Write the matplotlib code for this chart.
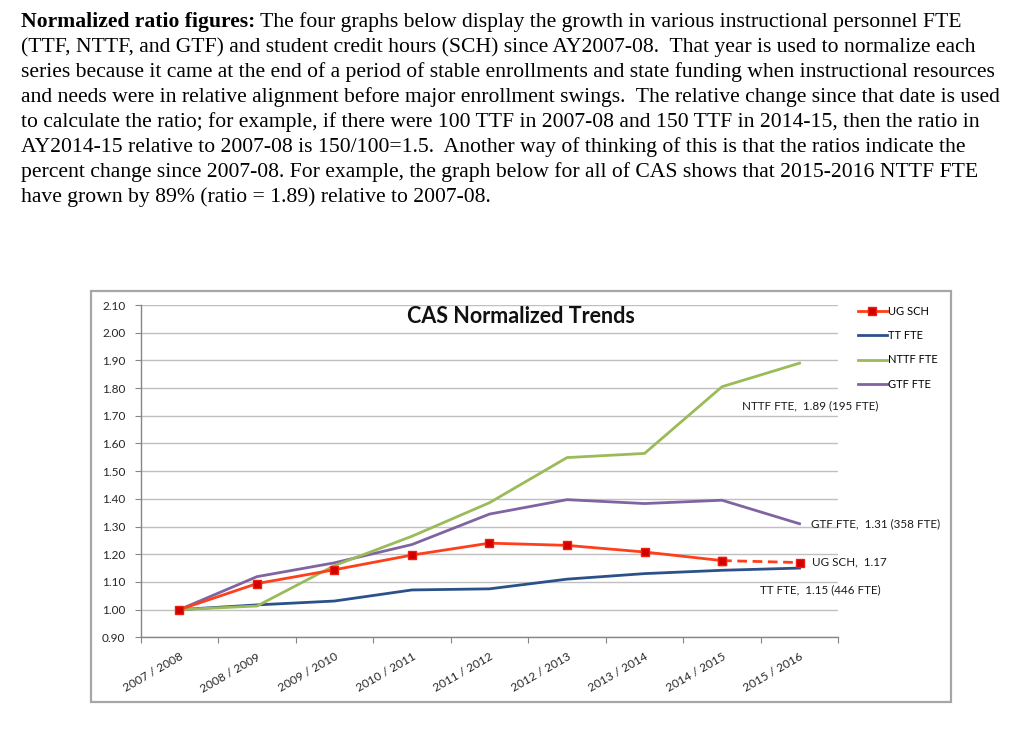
import matplotlib
matplotlib.use('Agg')
import matplotlib.pyplot as plt
from matplotlib.patches import Rectangle

# data
years = ['2007 / 2008', '2008 / 2009', '2009 / 2010', '2010 / 2011', '2011 / 2012',
         '2012 / 2013', '2013 / 2014', '2014 / 2015', '2015 / 2016']
ug_sch = [1.00, 1.094, 1.144, 1.197, 1.240, 1.232, 1.208, 1.177, 1.17]
tt_fte = [1.00, 1.017, 1.031, 1.071, 1.075, 1.110, 1.130, 1.142, 1.15]
nttf_fte = [1.00, 1.013, 1.159, 1.265, 1.386, 1.549, 1.564, 1.805, 1.89]
gtf_fte = [1.00, 1.119, 1.169, 1.235, 1.345, 1.397, 1.383, 1.395, 1.31]
yticks = [0.90, 1.00, 1.10, 1.20, 1.30, 1.40, 1.50, 1.60, 1.70, 1.80, 1.90, 2.00, 2.10]

para = [
    "(TTF, NTTF, and GTF) and student credit hours (SCH) since AY2007-08.  That year is used to normalize each",
    "series because it came at the end of a period of stable enrollments and state funding when instructional resources",
    "and needs were in relative alignment before major enrollment swings.  The relative change since that date is used",
    "to calculate the ratio; for example, if there were 100 TTF in 2007-08 and 150 TTF in 2014-15, then the ratio in",
    "AY2014-15 relative to 2007-08 is 150/100=1.5.  Another way of thinking of this is that the ratios indicate the",
    "percent change since 2007-08. For example, the graph below for all of CAS shows that 2015-2016 NTTF FTE",
    "have grown by 89% (ratio = 1.89) relative to 2007-08.",
]
head_bold = "Normalized ratio figures:"
head_rest = "The four graphs below display the growth in various instructional personnel FTE"

W, H = 1024, 753
def fx(px): return px / W
def fy(py): return 1 - py / H

fig = plt.figure(figsize=(10.24, 7.53), dpi=100)
serif = 'Liberation Serif'
sans = 'Lato'
fs_par = 15.6
line_gap = 24.9
base0 = 27.5

# paragraph text
t = fig.text(fx(21), fy(base0), head_bold, family=serif, fontsize=fs_par,
             fontweight='bold', va='baseline')
fig.canvas.draw()
bb = t.get_window_extent()
fig.text((bb.x1 + 5) / W, fy(base0), head_rest, family=serif, fontsize=fs_par, va='baseline')
for i, line in enumerate(para):
    fig.text(fx(21), fy(base0 + line_gap * (i + 1)), line, family=serif,
             fontsize=fs_par, va='baseline')

# chart frame
fig.patches.append(Rectangle((fx(91), fy(702)), (951 - 91) / W, (702 - 291) / H,
                             transform=fig.transFigure, fill=False,
                             ec='#A6A6A6', lw=1.6))

ax = fig.add_axes([fx(140.7), fy(637.3), 697.6 / W, (637.3 - 305) / H])
x = list(range(len(years)))

red = '#FF3F1A'
l_ug, = ax.plot(x[:8], ug_sch[:8], color=red, lw=2, marker='s', ms=6,
                mfc='#D00000', mec='#F01E0A', zorder=5, label='UG SCH')
ax.plot(x[7:], ug_sch[7:], color=red, lw=2, ls=(0, (3.5, 2)), marker='s', ms=6,
        mfc='#D00000', mec='#F01E0A', zorder=5)
l_tt, = ax.plot(x, tt_fte, color='#2B5189', lw=2, label='TT FTE', zorder=3)
l_nt, = ax.plot(x, nttf_fte, color='#9BBB59', lw=2, label='NTTF FTE', zorder=4)
l_gt, = ax.plot(x, gtf_fte, color='#8064A2', lw=2, label='GTF FTE', zorder=3)

ax.set_xlim(-0.5, 8.5)
ax.set_ylim(0.9, 2.1)
ax.set_yticks(yticks)
ax.set_yticklabels(['%.2f' % v for v in yticks], family=sans, fontsize=8.5, color='#262626')
ax.yaxis.grid(True, color='#C0C0C0', lw=1)
ax.set_axisbelow(True)
ax.tick_params(axis='y', length=4, color='#868686', pad=7)

ax.set_xticks([i - 0.5 for i in range(len(years) + 1)])
ax.set_xticklabels([])
ax.tick_params(axis='x', which='major', length=4, color='#868686')
ax.set_xticks(x, minor=True)
ax.set_xticklabels(years, minor=True, rotation=30, ha='right', va='top',
                   rotation_mode='anchor', family=sans, fontsize=8.6, color='#262626')
ax.tick_params(axis='x', which='minor', length=0, pad=10)

for s in ['top', 'right']:
    ax.spines[s].set_visible(False)
for s in ['left', 'bottom']:
    ax.spines[s].set_color('#868686')
    ax.spines[s].set_linewidth(1)

# end labels
lab = dict(family=sans, fontsize=8.4, color='#1a1a1a', va='center', ha='left')
ax.text(7.26, 1.735, 'NTTF FTE,  1.89 (195 FTE)', **lab)
ax.text(8.15, 1.31, 'GTF FTE,  1.31 (358 FTE)', **lab)
ax.text(8.16, 1.171, 'UG SCH,  1.17', **lab)
ax.text(7.49, 1.071, 'TT FTE,  1.15 (446 FTE)', **lab)

fig.text(fx(520.5), fy(316), 'CAS Normalized Trends', ha='center', va='center',
         family=sans, fontsize=15.5, fontweight='bold', color='#111111')

fig.legend(handles=[l_ug, l_tt, l_nt, l_gt], loc='upper left',
           bbox_to_anchor=(fx(850), fy(298)), frameon=False,
           prop={'family': sans, 'size': 8}, handlelength=2.6, handletextpad=0.15,
           labelspacing=1.2, borderpad=0.2)

fig.savefig('out.png', dpi=100)
